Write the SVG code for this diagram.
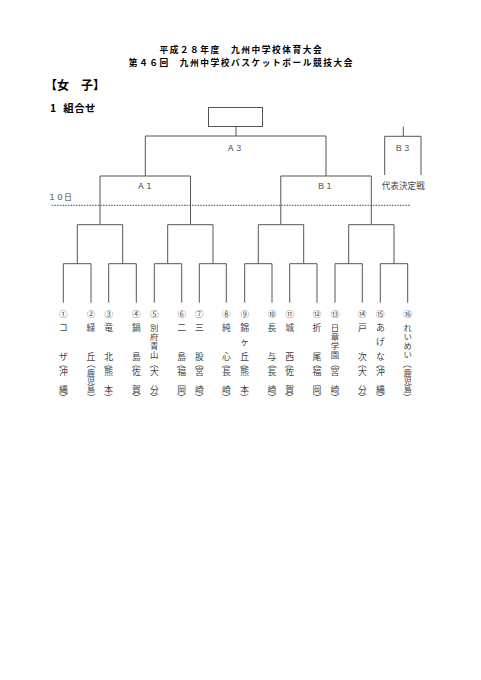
<svg xmlns="http://www.w3.org/2000/svg" width="481" height="680" viewBox="0 0 481 680">
<style>
.bg{fill:#fff}
.ln{fill:none;stroke:#555;stroke-width:1}
.dot{fill:none;stroke:#444;stroke-width:1;stroke-dasharray:1.5 1.2}
.hd{font-family:"Noto Sans CJK JP","Liberation Sans",sans-serif;font-weight:bold;fill:#000}
.ti{font-size:8.7px;letter-spacing:1.55px;text-anchor:middle}
.lb{font-family:"Noto Sans CJK JP",sans-serif;fill:#444;text-anchor:middle}
.t{font-family:"Noto Sans CJK JP",sans-serif;font-size:8.8px;fill:#444;text-anchor:middle}
.v{writing-mode:vertical-rl;font-size:8px;letter-spacing:0.2px}
.w{writing-mode:vertical-rl;font-size:8.4px;letter-spacing:0.6px}
.n{font-family:"Noto Sans CJK JP",sans-serif;font-size:8.5px;fill:#444;text-anchor:middle}
</style>
<rect class="bg" x="0" y="0" width="481" height="680"/>
<g id="title">
<text class="hd ti" x="241.3" y="53.3">平成２８年度　九州中学校体育大会</text>
<text class="hd ti" x="241.3" y="66">第４６回　九州中学校バスケットボール競技大会</text>
</g>
<g id="heading">
<text class="hd" x="45" y="90.3" font-size="12">【女　子】</text>
<text class="hd" x="50" y="112" font-size="10.5" font-family="Liberation Sans,sans-serif">1</text>
<text class="hd" x="63.3" y="112" font-size="10.5" letter-spacing="0.4">組合せ</text>
</g>
<g id="final-box"><rect class="ln" x="208.5" y="107.5" width="54" height="19"/></g>
<g id="connectors">
<path class="ln" d="M236 126.7V136M145.3 136H326M145.3 136V176M326 136V176
M100 176H190.5M280.8 176H371.3
M100 176V224.7M190.5 176V224.7M280.8 176V224.7M371.3 176V224.7
M77.3 224.7H122.7M167.7 224.7H213M258.3 224.7H303.7M348.7 224.7H394
M77.3 224.7V263.7M122.7 224.7V263.7M167.7 224.7V263.7M213 224.7V263.7M258.3 224.7V263.7M303.7 224.7V263.7M348.7 224.7V263.7M394 224.7V263.7
M63.3 263.7H91M108.7 263.7H136.3M154.3 263.7H181.7M199.3 263.7H226.3M244.7 263.7H272M289.7 263.7H317M335 263.7H362.3M380.3 263.7H407.7
M63.3 263.7V302.7M91 263.7V302.7M108.7 263.7V302.7M136.3 263.7V302.7M154.3 263.7V302.7M181.7 263.7V302.7M199.3 263.7V302.7M226.3 263.7V302.7
M244.7 263.7V302.7M272 263.7V302.7M289.7 263.7V302.7M317 263.7V302.7M335 263.7V302.7M362.3 263.7V302.7M380.3 263.7V302.7M407.7 263.7V302.7
M403.3 126.7V136.3M384.7 136.3H421M384.7 136.3V175M421 136.3V175"/>
<path class="dot" d="M51.7 205.3H410"/>
</g>
<g id="labels">
<text class="lb" x="234.7" y="150.7" font-size="8">Ａ３</text>
<text class="lb" x="402.7" y="150.7" font-size="8">Ｂ３</text>
<text class="lb" x="145" y="189" font-size="8">Ａ１</text>
<text class="lb" x="325" y="189" font-size="8">Ｂ１</text>
<text class="lb" x="403.3" y="189.3" font-size="8.6">代表決定戦</text>
<text class="lb" x="48" y="199.7" font-size="8" style="text-anchor:start">１０日</text>
</g>
<g id="team1"><text class="n" x="63.3" y="316.6">①</text><text class="t" x="63.3" y="331">コ</text><text class="t" x="63.3" y="360">ザ</text><text class="t" transform="translate(60,364) rotate(90)">（</text><text class="t" x="63.3" y="375">沖</text><text class="t" x="63.3" y="393.3">縄</text><text class="t" transform="translate(60,397.5) rotate(90)">）</text></g>
<g id="team2"><text class="n" x="91" y="316.6">②</text><text class="t" x="91" y="331">緑</text><text class="t" x="91" y="360">丘</text><text class="t" transform="translate(87.7,364) rotate(90)">（</text><text class="t v" x="91" y="381.2">鹿児島</text><text class="t" transform="translate(87.7,397.5) rotate(90)">）</text></g>
<g id="team3"><text class="n" x="108.7" y="316.6">③</text><text class="t" x="108.7" y="331">竜</text><text class="t" x="108.7" y="360">北</text><text class="t" transform="translate(105.4,364) rotate(90)">（</text><text class="t" x="108.7" y="375">熊</text><text class="t" x="108.7" y="393.3">本</text><text class="t" transform="translate(105.4,397.5) rotate(90)">）</text></g>
<g id="team4"><text class="n" x="136.3" y="316.6">④</text><text class="t" x="136.3" y="331">鍋</text><text class="t" x="136.3" y="360">島</text><text class="t" transform="translate(133,364) rotate(90)">（</text><text class="t" x="136.3" y="375">佐</text><text class="t" x="136.3" y="393.3">賀</text><text class="t" transform="translate(133,397.5) rotate(90)">）</text></g>
<g id="team5"><text class="n" x="154.3" y="316.6">⑤</text><text class="t w" x="154.3" y="341.5">別府青山</text><text class="t" transform="translate(151,364) rotate(90)">（</text><text class="t" x="154.3" y="375">大</text><text class="t" x="154.3" y="393.3">分</text><text class="t" transform="translate(151,397.5) rotate(90)">）</text></g>
<g id="team6"><text class="n" x="181.7" y="316.6">⑥</text><text class="t" x="181.7" y="331">二</text><text class="t" x="181.7" y="360">島</text><text class="t" transform="translate(178.4,364) rotate(90)">（</text><text class="t" x="181.7" y="375">福</text><text class="t" x="181.7" y="393.3">岡</text><text class="t" transform="translate(178.4,397.5) rotate(90)">）</text></g>
<g id="team7"><text class="n" x="199.3" y="316.6">⑦</text><text class="t" x="199.3" y="331">三</text><text class="t" x="199.3" y="360">股</text><text class="t" transform="translate(196,364) rotate(90)">（</text><text class="t" x="199.3" y="375">宮</text><text class="t" x="199.3" y="393.3">崎</text><text class="t" transform="translate(196,397.5) rotate(90)">）</text></g>
<g id="team8"><text class="n" x="226.3" y="316.6">⑧</text><text class="t" x="226.3" y="331">純</text><text class="t" x="226.3" y="360">心</text><text class="t" transform="translate(223,364) rotate(90)">（</text><text class="t" x="226.3" y="375">長</text><text class="t" x="226.3" y="393.3">崎</text><text class="t" transform="translate(223,397.5) rotate(90)">）</text></g>
<g id="team9"><text class="n" x="244.7" y="316.6">⑨</text><text class="t" x="244.7" y="331">錦</text><text class="t" x="244.7" y="345.3">ヶ</text><text class="t" x="244.7" y="360">丘</text><text class="t" transform="translate(241.4,364) rotate(90)">（</text><text class="t" x="244.7" y="375">熊</text><text class="t" x="244.7" y="393.3">本</text><text class="t" transform="translate(241.4,397.5) rotate(90)">）</text></g>
<g id="team10"><text class="n" x="272" y="316.6">⑩</text><text class="t" x="272" y="331">長</text><text class="t" x="272" y="360">与</text><text class="t" transform="translate(268.7,364) rotate(90)">（</text><text class="t" x="272" y="375">長</text><text class="t" x="272" y="393.3">崎</text><text class="t" transform="translate(268.7,397.5) rotate(90)">）</text></g>
<g id="team11"><text class="n" x="289.7" y="316.6">⑪</text><text class="t" x="289.7" y="331">城</text><text class="t" x="289.7" y="360">西</text><text class="t" transform="translate(286.4,364) rotate(90)">（</text><text class="t" x="289.7" y="375">佐</text><text class="t" x="289.7" y="393.3">賀</text><text class="t" transform="translate(286.4,397.5) rotate(90)">）</text></g>
<g id="team12"><text class="n" x="317" y="316.6">⑫</text><text class="t" x="317" y="331">折</text><text class="t" x="317" y="360">尾</text><text class="t" transform="translate(313.7,364) rotate(90)">（</text><text class="t" x="317" y="375">福</text><text class="t" x="317" y="393.3">岡</text><text class="t" transform="translate(313.7,397.5) rotate(90)">）</text></g>
<g id="team13"><text class="n" x="335" y="316.6">⑬</text><text class="t w" x="335" y="341.5">日章学園</text><text class="t" transform="translate(331.7,364) rotate(90)">（</text><text class="t" x="335" y="375">宮</text><text class="t" x="335" y="393.3">崎</text><text class="t" transform="translate(331.7,397.5) rotate(90)">）</text></g>
<g id="team14"><text class="n" x="362.3" y="316.6">⑭</text><text class="t" x="362.3" y="331">戸</text><text class="t" x="362.3" y="360">次</text><text class="t" transform="translate(359,364) rotate(90)">（</text><text class="t" x="362.3" y="375">大</text><text class="t" x="362.3" y="393.3">分</text><text class="t" transform="translate(359,397.5) rotate(90)">）</text></g>
<g id="team15"><text class="n" x="380.3" y="316.6">⑮</text><text class="t" x="380.3" y="331">あ</text><text class="t" x="380.3" y="345.3">げ</text><text class="t" x="380.3" y="360">な</text><text class="t" transform="translate(377,364) rotate(90)">（</text><text class="t" x="380.3" y="375">沖</text><text class="t" x="380.3" y="393.3">縄</text><text class="t" transform="translate(377,397.5) rotate(90)">）</text></g>
<g id="team16"><text class="n" x="407.7" y="316.6">⑯</text><text class="t w" x="407.7" y="341.5">れいめい</text><text class="t" transform="translate(404.4,364) rotate(90)">（</text><text class="t v" x="407.7" y="381.2">鹿児島</text><text class="t" transform="translate(404.4,397.5) rotate(90)">）</text></g>
</svg>
